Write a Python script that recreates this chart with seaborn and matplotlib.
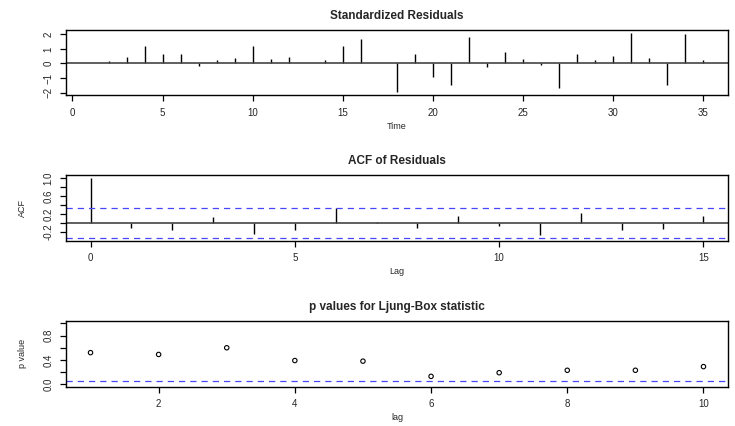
import matplotlib
matplotlib.use('Agg')
import matplotlib.pyplot as plt
import numpy as np
import pandas as pd
import seaborn as sns

# standardized residuals, t = 1..35
time = list(range(1, 36))
std_resid = [0.02, 0.15, 0.47, 1.20, 0.67, 0.67, -0.20, 0.25, 0.38, 1.18,
             0.33, 0.47, 0.02, 0.25, 1.20, 1.71, 0.03, -1.96, 0.62, -0.91,
             -1.51, 1.82, -0.22, 0.80, 0.31, -0.10, -1.69, 0.62, 0.22, 0.53,
             2.11, 0.40, -1.51, 2.04, 0.27]

# ACF of residuals, lags 0..15
lags = list(range(0, 16))
acf_vals = [1.0, -0.11, -0.15, 0.13, -0.23, -0.15, 0.34, 0.03, -0.10, 0.17,
            -0.07, -0.26, 0.22, -0.15, -0.13, 0.16]
acf_ci = 0.338

# Ljung-Box p values, lags 1..10
lb_lags = list(range(1, 11))
lb_pvals = [0.52, 0.49, 0.60, 0.39, 0.38, 0.13, 0.19, 0.23, 0.23, 0.29]
lb_level = 0.05

sns.set_theme(style='ticks')
plt.rcParams['font.family'] = ['Liberation Sans', 'DejaVu Sans']
plt.rcParams['axes.linewidth'] = 1.0

W, H = 735, 426
fig = plt.figure(figsize=(W / 100, H / 100), dpi=100)


def add_ax(top_px, bottom_px):
    left, right = 66, 728
    return fig.add_axes([left / W, 1 - bottom_px / H,
                         (right - left) / W, (bottom_px - top_px) / H])


def style_ax(ax, title, xlabel, ylabel):
    ax.set_title(title, fontsize=8.5, fontweight='bold', pad=8)
    ax.set_xlabel(xlabel, fontsize=6.5, labelpad=3)
    ax.set_ylabel(ylabel, fontsize=6.5, labelpad=12)
    ax.tick_params(axis='both', labelsize=7, length=4, width=0.9,
                   color='black', pad=5)
    for lab in ax.get_yticklabels():
        lab.set_rotation(90)
        lab.set_va('center')
    for sp in ax.spines.values():
        sp.set_visible(True)
        sp.set_color('black')


# Standardized Residuals
ax1 = add_ax(30, 95)
df1 = pd.DataFrame({'time': time, 'resid': std_resid})
ax1.vlines(df1['time'], 0, df1['resid'], color='black', lw=1.0)
ax1.axhline(0, color='#444444', lw=1.2)
ax1.set_xlim(1 - 0.04 * 34, 35 + 0.04 * 34)
ax1.set_ylim(-2.17, 2.30)
ax1.set_xticks([0, 5, 10, 15, 20, 25, 30, 35])
ax1.set_yticks([-2, -1, 0, 1, 2])
style_ax(ax1, 'Standardized Residuals', 'Time', '')

# ACF of Residuals
ax2 = add_ax(175, 240.7)
df2 = pd.DataFrame({'lag': lags, 'acf': acf_vals})
ax2.vlines(df2['lag'], 0, df2['acf'], color='black', lw=1.0)
ax2.axhline(0, color='#444444', lw=1.2)
ax2.axhline(acf_ci, color='#4646ff', lw=0.9, ls=(0, (5, 4)))
ax2.axhline(-acf_ci, color='#4646ff', lw=0.9, ls=(0, (5, 4)))
ax2.set_xlim(-0.6, 15.6)
ax2.set_ylim(-0.39, 1.075)
ax2.set_xticks([0, 5, 10, 15])
ax2.set_yticks([-0.2, 0.0, 0.2, 0.4, 0.6, 0.8, 1.0])
ax2.set_yticklabels(['-0.2', '', '0.2', '', '0.6', '', '1.0'])
style_ax(ax2, 'ACF of Residuals', 'Lag', 'ACF')

# p values for Ljung-Box statistic
ax3 = add_ax(321, 386.7)
df3 = pd.DataFrame({'lag': lb_lags, 'p': lb_pvals})
sns.scatterplot(data=df3, x='lag', y='p', ax=ax3, marker='o', s=10,
                facecolors='none', edgecolor='black', linewidth=0.8)
ax3.axhline(lb_level, color='#4646ff', lw=0.9, ls=(0, (5, 4)))
ax3.set_xlim(1 - 0.04 * 9, 10 + 0.04 * 9)
ax3.set_ylim(-0.04, 1.04)
ax3.set_xticks([2, 4, 6, 8, 10])
ax3.set_yticks([0.0, 0.2, 0.4, 0.6, 0.8, 1.0])
ax3.set_yticklabels(['0.0', '', '0.4', '', '0.8', ''])
style_ax(ax3, 'p values for Ljung-Box statistic', 'lag', 'p value')

fig.savefig('out.png', dpi=100, facecolor='white')
